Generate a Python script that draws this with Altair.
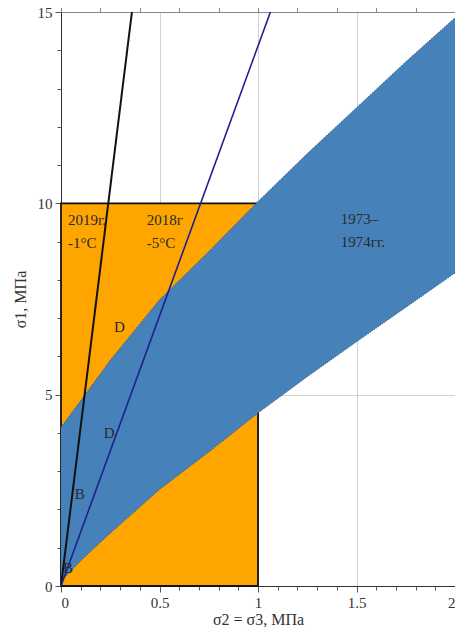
import altair as alt
import pandas as pd

# Band (1973-1974) edges
band_x = [0, 0.1, 0.25, 0.5, 0.75, 1.0, 1.25, 1.5, 1.75, 2.0]
band_upper = [4.15, 4.85, 5.9, 7.48, 8.74, 10.05, 11.3, 12.5, 13.7, 14.85]
band_lower = [0.12, 0.66, 1.38, 2.52, 3.5, 4.52, 5.47, 6.38, 7.28, 8.18]

# Orange rectangle (envelope)
rect_x = [0.0]
rect_x2 = [1.0]
rect_y = [0.0]
rect_y2 = [10.0]

# Lines through origin
line2019_x = [0.0, 0.36]
line2019_y = [0.0, 15.0]
line2018_x = [0.0, 1.063]
line2018_y = [0.0, 15.0]

# Text labels
label_text = ["2019г.", "-1°C", "2018г", "-5°C", "1973–", "1974гг.", "D", "D", "B", "B"]
label_x = [0.035, 0.035, 0.435, 0.435, 1.42, 1.42, 0.296, 0.245, 0.095, 0.035]
label_y = [9.56, 8.96, 9.56, 8.96, 9.59, 9.0, 6.77, 4.0, 2.4, 0.47]
label_align = ["left", "left", "left", "left", "left", "left", "center", "center", "center", "center"]

x_major = [0, 0.5, 1, 1.5, 2]
x_minor = [round(i * 0.1, 1) for i in range(21)]
y_major = [0, 5, 10, 15]
y_minor = list(range(16))

FONT = "Liberation Serif"

xs = alt.Scale(domain=[0, 2], nice=False, zero=False)
ys = alt.Scale(domain=[0, 15], nice=False, zero=False)

band_df = pd.DataFrame({"x": band_x, "hi": band_upper, "lo": band_lower})
rect_df = pd.DataFrame({"x": rect_x, "x2": rect_x2, "y": rect_y, "y2": rect_y2})
l19 = pd.DataFrame({"x": line2019_x, "y": line2019_y})
l18 = pd.DataFrame({"x": line2018_x, "y": line2018_y})
lab_df = pd.DataFrame({"t": label_text, "x": label_x, "y": label_y, "a": label_align})

main_x_axis = alt.Axis(values=x_major, format="~g", title="σ2 = σ3, МПа", grid=True,
                       gridColor="#d0d0d0", gridWidth=1, tickSize=6, tickColor="#555",
                       domainColor="#333", labelFont=FONT, labelFontSize=15, labelColor="#333",
                       labelPadding=3, titleFont=FONT, titleFontSize=16, titleFontWeight="normal",
                       titleColor="#333", titlePadding=1, orient="bottom")
main_y_axis = alt.Axis(values=y_major, format="~g", title="σ1, МПа", grid=True,
                       gridColor="#d0d0d0", gridWidth=1, tickSize=6, tickColor="#555",
                       domainColor="#333", labelFont=FONT, labelFontSize=15, labelColor="#333",
                       labelPadding=3, titleFont=FONT, titleFontSize=16, titleFontWeight="normal",
                       titleColor="#333", titlePadding=9, orient="left")

rect = alt.Chart(rect_df).mark_rect(color="#ffa500", stroke="#111", strokeWidth=1.8).encode(
    x=alt.X("x:Q", scale=xs, axis=main_x_axis),
    x2="x2:Q",
    y=alt.Y("y:Q", scale=ys, axis=main_y_axis),
    y2="y2:Q",
)

minor = alt.Chart(pd.DataFrame({"x": [0], "y": [0]})).mark_point(opacity=0).encode(
    x=alt.X("x:Q", scale=xs, axis=alt.Axis(values=x_minor, labels=False, domain=False, grid=False,
                                            tickSize=4, tickColor="#555", title=None, orient="bottom")),
    y=alt.Y("y:Q", scale=ys, axis=alt.Axis(values=y_minor, labels=False, domain=False, grid=False,
                                            tickSize=4, tickColor="#555", title=None, orient="left")),
)

band = alt.Chart(band_df).mark_area(color="#4682b9", opacity=1, clip=True).encode(
    x=alt.X("x:Q", scale=xs), y=alt.Y("hi:Q", scale=ys), y2="lo:Q"
)
edge_hi = alt.Chart(band_df).mark_line(color="#2b4f78", strokeWidth=1, strokeDash=[1, 1.5], clip=True).encode(
    x=alt.X("x:Q", scale=xs), y=alt.Y("hi:Q", scale=ys)
)
edge_lo = alt.Chart(band_df).mark_line(color="#2b4f78", strokeWidth=1, strokeDash=[1, 1.5], clip=True).encode(
    x=alt.X("x:Q", scale=xs), y=alt.Y("lo:Q", scale=ys)
)

line19 = alt.Chart(l19).mark_line(color="#111111", strokeWidth=2, clip=True).encode(
    x=alt.X("x:Q", scale=xs), y=alt.Y("y:Q", scale=ys)
)
line18 = alt.Chart(l18).mark_line(color="#1f1f8f", strokeWidth=1.6, clip=True).encode(
    x=alt.X("x:Q", scale=xs), y=alt.Y("y:Q", scale=ys)
)

text_left = alt.Chart(lab_df[lab_df.a == "left"]).mark_text(
    font=FONT, fontSize=15, color="#2a2a2a", align="left", baseline="middle"
).encode(x=alt.X("x:Q", scale=xs), y=alt.Y("y:Q", scale=ys), text="t:N")
text_center = alt.Chart(lab_df[lab_df.a == "center"]).mark_text(
    font=FONT, fontSize=15, color="#2a2a2a", align="center", baseline="middle"
).encode(x=alt.X("x:Q", scale=xs), y=alt.Y("y:Q", scale=ys), text="t:N")

chart = alt.layer(rect, minor, band, edge_hi, edge_lo, line19, line18, text_left, text_center).resolve_axis(
    x="independent", y="independent"
).properties(
    width=394, height=574,
    autosize=alt.AutoSizeParams(type="none"),
    padding={"left": 53, "top": 4, "right": 0, "bottom": 41},
).configure_view(stroke=None)

chart.save("out.html", embed_options={"renderer": "svg", "actions": False})
